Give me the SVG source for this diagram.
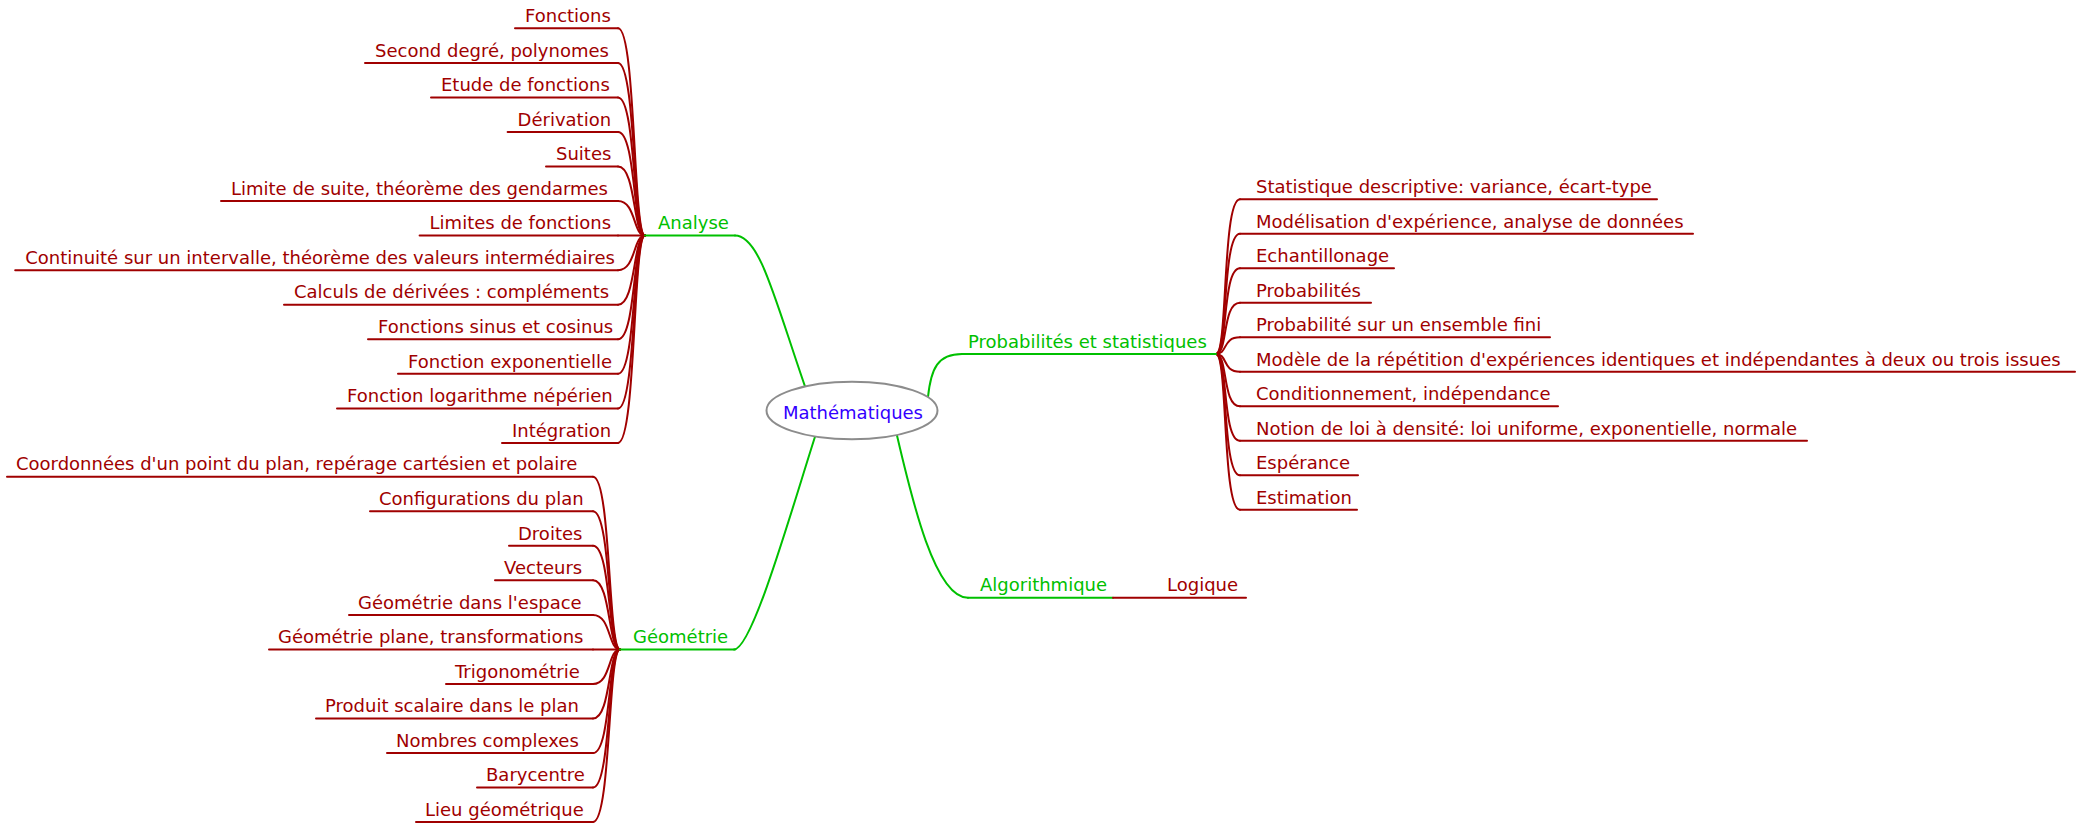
<svg xmlns="http://www.w3.org/2000/svg" width="2093" height="823" viewBox="0 0 2093 823">
<style>
text{font-family:"DejaVu Sans",Verdana,sans-serif;font-size:18px}
.b{fill:#a00000}
.g{fill:#00c000}
.lb{stroke:#a00000;stroke-width:2;fill:none;stroke-linecap:round}
.lg{stroke:#00c000;stroke-width:2;fill:none;stroke-linecap:round}
</style>
<rect width="2093" height="823" fill="#ffffff"/>
<g id="connectors">
<path class="lg" d="M735,235.6 C760,235.6 775,300 805,386.4"/>
<path class="lg" d="M815,436.8 C790,515 752,649.4 734,649.4"/>
<path class="lg" d="M928,397 C931,368 938,354 962,354"/>
<path class="lg" d="M897,435.5 C912,500 935,597.7 968,597.7"/>
<path class="lb" d="M645,235.6 C633,235.6 636,28.3 618,28.3"/>
<path class="lb" d="M645,235.6 C633,235.6 636,62.9 618,62.9"/>
<path class="lb" d="M645,235.6 C633,235.6 636,97.4 618,97.4"/>
<path class="lb" d="M645,235.6 C633,235.6 636,131.9 618,131.9"/>
<path class="lb" d="M645,235.6 C633,235.6 636,166.5 618,166.5"/>
<path class="lb" d="M645,235.6 C633,235.6 636,201 618,201"/>
<path class="lb" d="M645,235.6 L618,235.6"/>
<path class="lb" d="M645,235.6 C633,235.6 636,270.2 618,270.2"/>
<path class="lb" d="M645,235.6 C633,235.6 636,304.7 618,304.7"/>
<path class="lb" d="M645,235.6 C633,235.6 636,339.3 618,339.3"/>
<path class="lb" d="M645,235.6 C633,235.6 636,373.8 618,373.8"/>
<path class="lb" d="M645,235.6 C633,235.6 636,408.4 618,408.4"/>
<path class="lb" d="M645,235.6 C633,235.6 636,442.9 618,442.9"/>
<path class="lb" d="M620,649.4 C608,649.4 611,476.7 593,476.7"/>
<path class="lb" d="M620,649.4 C608,649.4 611,511.2 593,511.2"/>
<path class="lb" d="M620,649.4 C608,649.4 611,545.8 593,545.8"/>
<path class="lb" d="M620,649.4 C608,649.4 611,580.3 593,580.3"/>
<path class="lb" d="M620,649.4 C608,649.4 611,614.9 593,614.9"/>
<path class="lb" d="M620,649.4 L593,649.4"/>
<path class="lb" d="M620,649.4 C608,649.4 611,684 593,684"/>
<path class="lb" d="M620,649.4 C608,649.4 611,718.5 593,718.5"/>
<path class="lb" d="M620,649.4 C608,649.4 611,753.1 593,753.1"/>
<path class="lb" d="M620,649.4 C608,649.4 611,787.6 593,787.6"/>
<path class="lb" d="M620,649.4 C608,649.4 611,822 593,822"/>
<path class="lb" d="M1216,354 C1228,354 1222,199.3 1240,199.3"/>
<path class="lb" d="M1216,354 C1228,354 1222,233.8 1240,233.8"/>
<path class="lb" d="M1216,354 C1228,354 1222,268.3 1240,268.3"/>
<path class="lb" d="M1216,354 C1228,354 1222,302.8 1240,302.8"/>
<path class="lb" d="M1216,354 C1228,354 1222,337.3 1240,337.3"/>
<path class="lb" d="M1216,354 C1228,354 1222,371.8 1240,371.8"/>
<path class="lb" d="M1216,354 C1228,354 1222,406.3 1240,406.3"/>
<path class="lb" d="M1216,354 C1228,354 1222,440.8 1240,440.8"/>
<path class="lb" d="M1216,354 C1228,354 1222,475.3 1240,475.3"/>
<path class="lb" d="M1216,354 C1228,354 1222,509.8 1240,509.8"/>
</g>

<g id="root">
<ellipse cx="852" cy="410.5" rx="85.5" ry="28.8" fill="#ffffff" stroke="#8c8c8c" stroke-width="2"/>
<text x="853" y="418.5" text-anchor="middle" fill="#3300ff">Mathématiques</text>
</g>

<g id="analyse">
<path class="lg" d="M645,235.6 H735"/>
<text class="g" x="658" y="229.3">Analyse</text>
</g>
<g id="geometrie">
<path class="lg" d="M620,649.4 H735"/>
<text class="g" x="633" y="643.1">Géométrie</text>
</g>
<g id="probabilites">
<path class="lg" d="M962,354 H1216"/>
<text class="g" x="968" y="347.7">Probabilités et statistiques</text>
</g>
<g id="algorithmique">
<path class="lg" d="M968,597.7 H1113"/>
<text class="g" x="980" y="591.4">Algorithmique</text>
</g>
<g id="logique">
<path class="lb" d="M1113,597.7 H1246"/>
<text class="b" x="1167" y="591.4">Logique</text>
</g>

<g id="a1"><path class="lb" d="M515,28.3 H618"/><text class="b" x="525" y="22">Fonctions</text></g>
<g id="a2"><path class="lb" d="M365,62.9 H618"/><text class="b" x="375" y="56.6">Second degré, polynomes</text></g>
<g id="a3"><path class="lb" d="M431,97.4 H618"/><text class="b" x="441" y="91.1">Etude de fonctions</text></g>
<g id="a4"><path class="lb" d="M507.6,131.9 H618"/><text class="b" x="517.6" y="125.6">Dérivation</text></g>
<g id="a5"><path class="lb" d="M546,166.5 H618"/><text class="b" x="556" y="160.2">Suites</text></g>
<g id="a6"><path class="lb" d="M221,201 H618"/><text class="b" x="231" y="194.7">Limite de suite, théorème des gendarmes</text></g>
<g id="a7"><path class="lb" d="M419.6,235.6 H618"/><text class="b" x="429.6" y="229.3">Limites de fonctions</text></g>
<g id="a8"><path class="lb" d="M15.2,270.2 H618"/><text class="b" x="25.2" y="263.9">Continuité sur un intervalle, théorème des valeurs intermédiaires</text></g>
<g id="a9"><path class="lb" d="M284,304.7 H618"/><text class="b" x="294" y="298.4">Calculs de dérivées : compléments</text></g>
<g id="a10"><path class="lb" d="M368,339.3 H618"/><text class="b" x="378" y="333">Fonctions sinus et cosinus</text></g>
<g id="a11"><path class="lb" d="M398,373.8 H618"/><text class="b" x="408" y="367.5">Fonction exponentielle</text></g>
<g id="a12"><path class="lb" d="M337,408.4 H618"/><text class="b" x="347" y="402.1">Fonction logarithme népérien</text></g>
<g id="a13"><path class="lb" d="M502,442.9 H618"/><text class="b" x="512" y="436.6">Intégration</text></g>

<g id="g1"><path class="lb" d="M7,476.7 H593"/><text class="b" x="16" y="470.4">Coordonnées d'un point du plan, repérage cartésien et polaire</text></g>
<g id="g2"><path class="lb" d="M370,511.2 H593"/><text class="b" x="379" y="504.9">Configurations du plan</text></g>
<g id="g3"><path class="lb" d="M509,545.8 H593"/><text class="b" x="518" y="539.5">Droites</text></g>
<g id="g4"><path class="lb" d="M495,580.3 H593"/><text class="b" x="504" y="574">Vecteurs</text></g>
<g id="g5"><path class="lb" d="M349,614.9 H593"/><text class="b" x="358" y="608.6">Géométrie dans l'espace</text></g>
<g id="g6"><path class="lb" d="M269,649.4 H593"/><text class="b" x="278" y="643.1">Géométrie plane, transformations</text></g>
<g id="g7"><path class="lb" d="M446,684 H593"/><text class="b" x="455" y="677.7">Trigonométrie</text></g>
<g id="g8"><path class="lb" d="M316,718.5 H593"/><text class="b" x="325" y="712.2">Produit scalaire dans le plan</text></g>
<g id="g9"><path class="lb" d="M387,753.1 H593"/><text class="b" x="396" y="746.8">Nombres complexes</text></g>
<g id="g10"><path class="lb" d="M477,787.6 H593"/><text class="b" x="486" y="781.3">Barycentre</text></g>
<g id="g11"><path class="lb" d="M416,822 H593"/><text class="b" x="425" y="815.8">Lieu géométrique</text></g>

<g id="p1"><path class="lb" d="M1240,199.3 H1657"/><text class="b" x="1256" y="193">Statistique descriptive: variance, écart-type</text></g>
<g id="p2"><path class="lb" d="M1240,233.8 H1693"/><text class="b" x="1256" y="227.5">Modélisation d'expérience, analyse de données</text></g>
<g id="p3"><path class="lb" d="M1240,268.3 H1394"/><text class="b" x="1256" y="262">Echantillonage</text></g>
<g id="p4"><path class="lb" d="M1240,302.8 H1371"/><text class="b" x="1256" y="296.5">Probabilités</text></g>
<g id="p5"><path class="lb" d="M1240,337.3 H1550"/><text class="b" x="1256" y="331">Probabilité sur un ensemble fini</text></g>
<g id="p6"><path class="lb" d="M1240,371.8 H2075"/><text class="b" x="1256" y="365.5">Modèle de la répétition d'expériences identiques et indépendantes à deux ou trois issues</text></g>
<g id="p7"><path class="lb" d="M1240,406.3 H1558"/><text class="b" x="1256" y="400">Conditionnement, indépendance</text></g>
<g id="p8"><path class="lb" d="M1240,440.8 H1807"/><text class="b" x="1256" y="434.5">Notion de loi à densité: loi uniforme, exponentielle, normale</text></g>
<g id="p9"><path class="lb" d="M1240,475.3 H1358"/><text class="b" x="1256" y="469">Espérance</text></g>
<g id="p10"><path class="lb" d="M1240,509.8 H1357"/><text class="b" x="1256" y="503.5">Estimation</text></g>
</svg>
